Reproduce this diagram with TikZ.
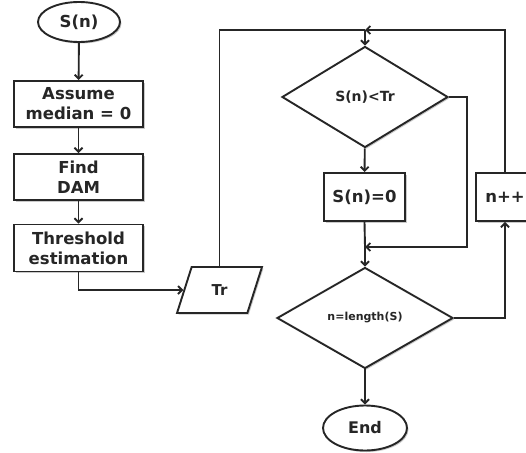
\documentclass[tikz,border=0pt]{standalone}
\usepackage{fontspec}
\setmainfont{DejaVu Sans}
\usepackage{tikz}
\usetikzlibrary{shapes.geometric, arrows.meta, shadows}
\usepackage{xcolor}

\definecolor{ink}{HTML}{262626}

\tikzset{
    shade/.style={drop shadow={shadow xshift=1.5pt, shadow yshift=-1.5pt, fill=black!35, opacity=0.6}},
    base/.style={draw=ink, line width=1.9pt, fill=white, shade, inner sep=0pt, text=ink,
        font=\fontsize{16.5}{20}\selectfont\bfseries},
    terminal/.style={base, ellipse},
    process/.style={base, rectangle, align=center},
    decision/.style={base, diamond},
    data/.style={base, trapezium, trapezium left angle=69, trapezium right angle=111, trapezium stretches=true},
    link/.style={draw=ink, line width=1.9pt},
    arrow/.style={link, -{Straight Barb[length=4pt, width=8pt]}}
}

\begin{document}
\begin{tikzpicture}[x=1pt, y=-1pt]

    \useasboundingbox (0,0) rectangle (526,452);

    % Left column
    \node[terminal, minimum width=82pt, minimum height=40pt] (sn) at (79, 22) {S(n)};
    \node[process, minimum width=129pt, minimum height=46pt] (assume) at (78.5, 104) {Assume\\median = 0};
    \node[process, minimum width=129pt, minimum height=46pt] (dam) at (78.5, 177) {Find\\DAM};
    \node[process, minimum width=129pt, minimum height=47pt] (thr) at (78.5, 248) {Threshold\\estimation};
    \node[data, minimum width=85pt, minimum height=46pt, font=\fontsize{15}{18}\selectfont\bfseries] (tr) at (219.5, 290) {Tr};

    % Right column
    \node[decision, minimum width=166pt, minimum height=101pt, font=\fontsize{14}{17}\selectfont\bfseries] (cmp) at (365, 97) {S(n)<Tr};
    \node[process, minimum width=81pt, minimum height=48pt] (zero) at (364.5, 197) {S(n)=0};
    \node[decision, minimum width=176pt, minimum height=101pt, font=\fontsize{11}{13}\selectfont\bfseries] (len) at (365, 318) {n=length(S)};
    \node[process, minimum width=58pt, minimum height=48pt] (inc) at (505, 197) {n++};
    \node[terminal, minimum width=84pt, minimum height=45pt, font=\fontsize{16}{19}\selectfont\bfseries] (end) at (365, 428) {End};

    % Junction points
    \coordinate (top) at (365, 30);     % loop entry
    \coordinate (join) at (365, 247);   % after S(n)=0
    \coordinate (bypass) at (467, 247); % false branch

    % Connectors, left column
    \draw[arrow] (sn) -- (assume);
    \draw[arrow] (assume) -- (dam);
    \draw[arrow] (dam) -- (thr);
    \draw[arrow] (thr.south) |- (tr.west);

    % Connectors, loop
    \draw[link] (tr.north) |- (top);
    \draw[arrow] (top) -- (cmp.north);
    \draw[arrow] (cmp) -- (zero);
    \draw[link] (zero.south) -- (join);
    \draw[arrow] (join) -- (len.north);
    \draw[arrow] (cmp.east) -| (bypass) -- (join);
    \draw[arrow] (len.east) -| (inc.south);
    \draw[arrow] (inc.north) |- (top);
    \draw[arrow] (len) -- (end);

\end{tikzpicture}
\end{document}
